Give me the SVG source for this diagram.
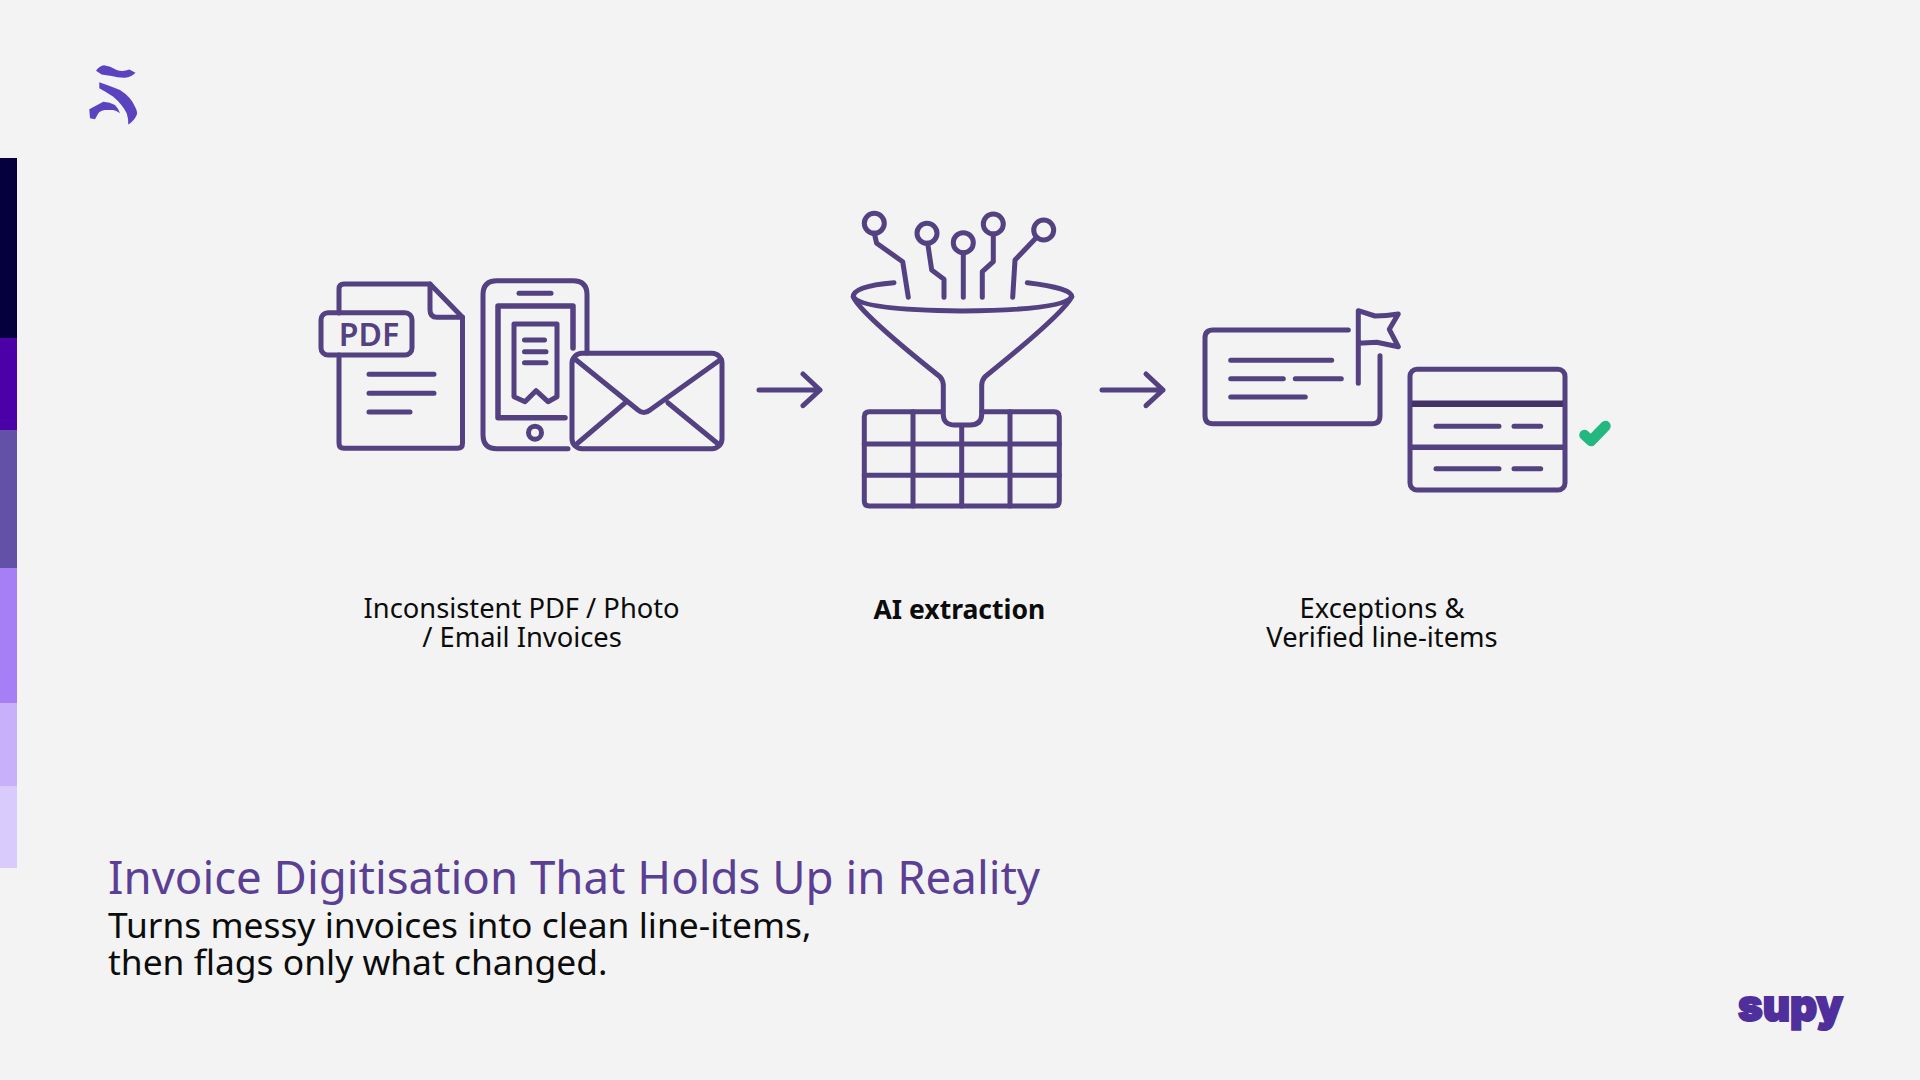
<svg xmlns="http://www.w3.org/2000/svg" width="1920" height="1080" viewBox="0 0 1920 1080">
<style>
text{font-family:"Noto Sans","Open Sans",sans-serif}
.i{fill:none;stroke:#534181;stroke-width:5;stroke-linecap:round;stroke-linejoin:round}
.l{font-size:27.3px;fill:#0c0c0c;text-anchor:middle}
.sub{font-size:35.4px;fill:#0c0c0c}
</style>
<rect width="1920" height="1080" fill="#f3f3f3"/>
<g id="sidebar">
<rect x="0" y="158" width="17" height="180" fill="#05003d"/>
<rect x="0" y="338" width="17" height="92" fill="#4b00a8"/>
<rect x="0" y="430" width="17" height="138" fill="#6351a8"/>
<rect x="0" y="568" width="17" height="135" fill="#a67ef5"/>
<rect x="0" y="703" width="17" height="83" fill="#c9b0fa"/>
<rect x="0" y="786" width="17" height="82" fill="#d9ccfd"/>
</g>
<g id="logo-mark" fill="#5b43c0">
<path d="M96 70.700Q100 65.500 104 65.300Q110 66 116.700 70Q123 72 129.300 69.500L135.500 72.700Q131 77 125 77.800Q118 78 111.700 76Q106 75 101.700 74.500Z"/>
<path d="M99.300 82.300Q110 86 120 90Q131 97 135 106.700Q138 112 136.700 115Q134 121 128.300 124.500Q128.500 119 126.700 113.300Q122 104 113.300 96.700Q106 92 99.300 88.300Z"/>
<path d="M89.300 109.300L103.300 101.700Q110 102 115 105Q118 108 120 113.300Q117 111 113.300 110L105 110Q100 111 98.300 113.300L95 119.300L90 118.300Z"/>
</g>
<g id="logo-supy">
<text x="1738" y="1021" font-size="44" font-weight="900" fill="#4f2f9c" stroke="#4f2f9c" stroke-width="2" textLength="105" lengthAdjust="spacingAndGlyphs" style="font-family:Inter,'Open Sans',sans-serif">supy</text>
</g>
<g id="node-inputs">
<g id="icon-pdf" class="i">
<path d="M339 313V289Q339 284 344 284H430L462.500 317.300V443.300Q462.500 448.300 457.500 448.300H344Q339 448.300 339 443.300V355"/>
<path d="M430 284V310Q430 317.300 437 317.300H462.500"/>
<rect x="321" y="312.700" width="91" height="42.300" rx="7"/>
<path d="M369 374.300H434M369 393.300H434M369 412H410"/>
<text x="369" y="345.500" font-size="32" font-weight="600" fill="#534181" stroke="none" text-anchor="middle">PDF</text>
</g>
<g id="icon-phone" class="i">
<path d="M568 448.700H497Q483 448.700 483 434.700V294.700Q483 280.700 497 280.700H573Q587 280.700 587 294.700V353"/>
<path d="M519 293.300H551"/>
<path d="M573 348V306H498V417.700H565" stroke-width="5.500"/>
<path d="M514 396.700V324H557V396.700L548 401.700L536 390.700L525 401.700Z"/>
<path d="M524.500 340H544.500M524.500 351.700H546M524.500 362.700H546"/>
<circle cx="535" cy="432.700" r="6.500"/>
</g>
<g id="icon-email" class="i">
<rect x="572" y="353.300" width="150" height="95.400" rx="10"/>
<path d="M574 358.300L638 410Q644 415 650 410L721 359.300"/>
<path d="M625.400 402.700L575.500 445M667.800 402.700L719.400 445"/>
</g>
</g>
<g id="node-funnel" class="i">
<path d="M942.700 411.700H869.300Q864.300 411.700 864.300 416.700V501Q864.300 506 869.300 506H1054.300Q1059.300 506 1059.300 501V416.700Q1059.300 411.700 1054.300 411.700H981.700"/>
<path d="M864.300 444H1059.300M864.300 475.300H1059.300M913 411.700V506M961.700 426.700V506M1010 411.700V506"/>
<path d="M894 282.700Q853 286 853.300 296.700Q860 310 962 311Q1064 310 1071.700 296.700Q1072 288 1027.300 282.700"/>
<path d="M853.300 296.700Q860 313 940 376.700Q943 380 943.300 385V414Q943 425 955 425H970Q981.700 425 981.700 414V385Q982 380 985 376.700Q1064 313 1071.700 296.700"/>
<circle cx="874.300" cy="223.300" r="10"/><circle cx="927" cy="233.300" r="10"/><circle cx="963.300" cy="242.700" r="10"/><circle cx="993.300" cy="224" r="10"/><circle cx="1043.700" cy="230" r="10"/>
<path d="M874.300 233.300L876.700 243.300L902.700 261.700L908.300 297.300M927.700 243.300L931.700 270L944 279.300V297.300M963.300 252.700V297.300M993.300 234V261.700L982.300 271.700V297.300M1036 238L1015 260L1012.700 297.300"/>
</g>
<g id="node-results">
<g class="i">
<path d="M1348.300 330H1213Q1205 330 1205 338V415.700Q1205 423.700 1213 423.700H1372Q1380 423.700 1380 415.700V355.700"/>
<path d="M1230.700 360.300H1331.700M1230.700 378.700H1283.300M1295.300 378.700H1341.300M1230.700 397H1305.300"/>
<path d="M1358.300 383.300V310.700L1375 316Q1386 316 1398.300 314L1389.300 329.300L1398.300 346.700L1376.700 342.300L1358.300 343.300"/>
<rect x="1410" y="369.300" width="155" height="120.700" rx="7"/>
<path d="M1412 403.700H1563" stroke-width="6.500" stroke-linecap="butt" stroke="#433168"/>
<path d="M1412 447.300H1563" stroke-width="5.500" stroke-linecap="butt"/>
<path d="M1436 426.300H1499M1514 426.300H1540.700M1436 468.700H1499M1514 468.700H1540.700"/>
</g>
<path d="M1584.500 435L1591 441L1605.500 426" fill="none" stroke="#22b880" stroke-width="10.500" stroke-linecap="round" stroke-linejoin="round"/>
</g>
<g id="connectors" class="i">
<path d="M759 390H820M803 374L820 390L803 405.700"/>
<path d="M1102 390H1163M1146 374L1163 390L1146 405.700"/>
</g>
<g id="label-inputs"><text class="l"><tspan x="521.600" y="618">Inconsistent PDF / Photo</tspan><tspan x="522" y="647">/ Email Invoices</tspan></text></g>
<g id="label-ai"><text class="l" x="959.400" y="619" font-weight="700" style="font-size:26.500px">AI extraction</text></g>
<g id="label-results"><text class="l"><tspan x="1382" y="618">Exceptions &amp;</tspan><tspan x="1382" y="647">Verified line-items</tspan></text></g>
<g id="caption">
<text x="108" y="894" font-size="45.600" fill="#5b3f94">Invoice Digitisation That Holds Up in Reality</text>
<text class="sub"><tspan x="108" y="938">Turns messy invoices into clean line-items,</tspan><tspan x="108" y="974.500">then flags only what changed.</tspan></text>
</g>
</svg>
